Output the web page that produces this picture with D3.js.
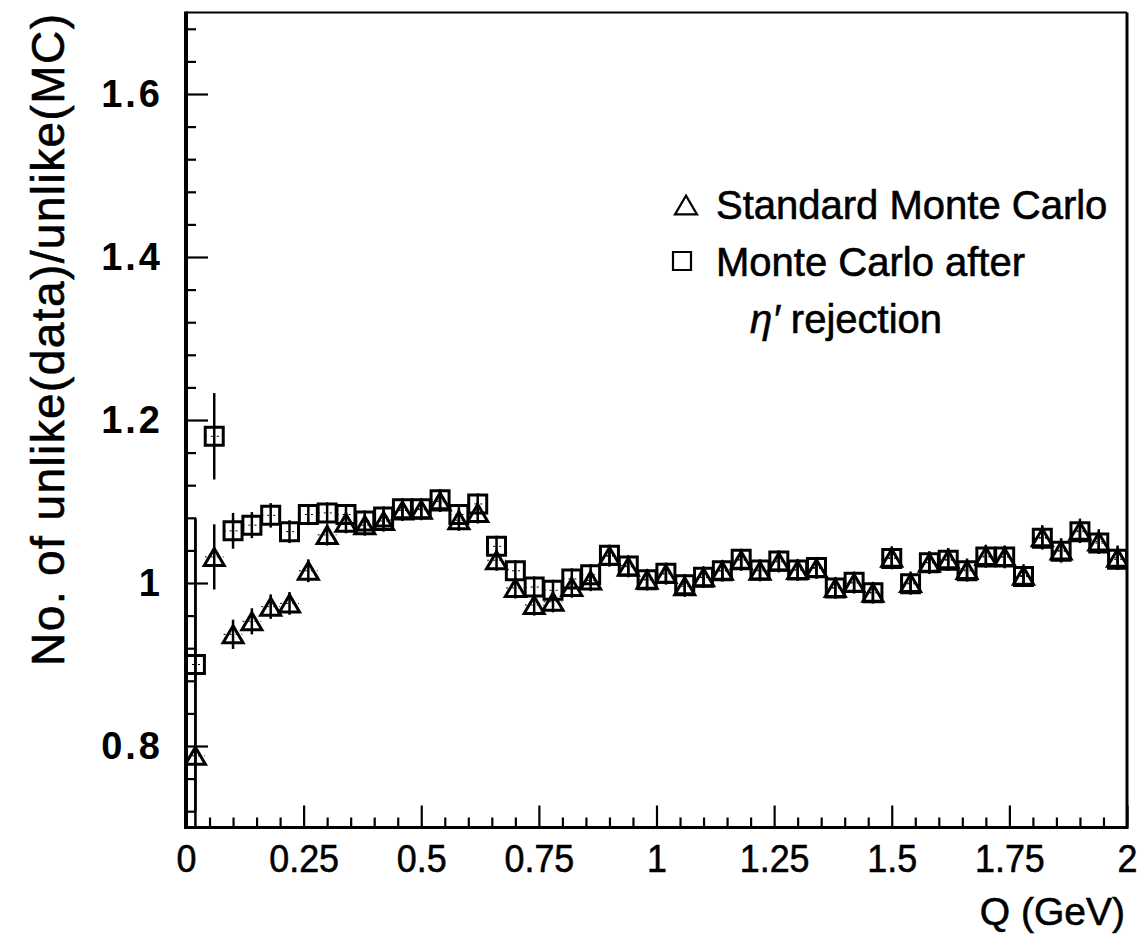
<!DOCTYPE html>
<html>
<head>
<meta charset="utf-8">
<script src="https://cdn.jsdelivr.net/npm/d3@7"></script>
<style>
  html, body { margin: 0; padding: 0; background: #fff; }
  svg { display: block; }
  text { font-family: "Liberation Sans", Arial, sans-serif; fill: #000; }
</style>
</head>
<body>
<svg id="chart" width="1145" height="935"></svg>
<script>
// Bin centres in Q (GeV)
const qBins = [
  0.02, 0.06, 0.10, 0.14, 0.18, 0.22, 0.26, 0.30, 0.34, 0.38,
  0.42, 0.46, 0.50, 0.54, 0.58, 0.62, 0.66, 0.70, 0.74, 0.78,
  0.82, 0.86, 0.90, 0.94, 0.98, 1.02, 1.06, 1.10, 1.14, 1.18,
  1.22, 1.26, 1.30, 1.34, 1.38, 1.42, 1.46, 1.50, 1.54, 1.58,
  1.62, 1.66, 1.70, 1.74, 1.78, 1.82, 1.86, 1.90, 1.94, 1.98
];
const binHalfWidth = 0.02;

// Ratio data/MC, standard Monte Carlo
const standardMC = [
  0.788, 1.032, 0.937, 0.953, 0.971, 0.975, 1.015, 1.059, 1.074, 1.071,
  1.076, 1.089, 1.090, 1.100, 1.077, 1.086, 1.028, 0.994, 0.973, 0.977,
  0.995, 1.003, 1.033, 1.020, 1.004, 1.011, 0.996, 1.007, 1.015, 1.028,
  1.015, 1.026, 1.016, 1.018, 0.994, 1.000, 0.988, 1.031, 1.000, 1.025,
  1.029, 1.016, 1.033, 1.032, 1.009, 1.056, 1.040, 1.064, 1.051, 1.031
];
const standardErr = [
  0.290, 0.040, 0.018, 0.016, 0.015, 0.014, 0.014, 0.013, 0.013, 0.013,
  0.013, 0.013, 0.013, 0.013, 0.013, 0.013, 0.013, 0.013, 0.013, 0.013,
  0.013, 0.013, 0.013, 0.013, 0.013, 0.013, 0.013, 0.013, 0.013, 0.013,
  0.013, 0.013, 0.013, 0.013, 0.013, 0.013, 0.013, 0.014, 0.014, 0.014,
  0.014, 0.014, 0.014, 0.014, 0.014, 0.015, 0.015, 0.015, 0.015, 0.015
];

// Ratio data/MC, Monte Carlo after eta' rejection
const etaRejMC = [
  0.900, 1.180, 1.064, 1.071, 1.083, 1.063, 1.084, 1.086, 1.084, 1.076,
  1.081, 1.091, 1.091, 1.102, 1.084, 1.097, 1.045, 1.015, 0.995, 0.991,
  1.005, 1.010, 1.034, 1.021, 1.004, 1.012, 0.998, 1.007, 1.015, 1.029,
  1.016, 1.027, 1.016, 1.019, 0.994, 1.001, 0.988, 1.030, 0.999, 1.025,
  1.028, 1.015, 1.032, 1.032, 1.008, 1.055, 1.039, 1.063, 1.049, 1.029
];
const etaRejErr = [
  0.180, 0.053, 0.022, 0.016, 0.015, 0.014, 0.013, 0.013, 0.013, 0.013,
  0.013, 0.013, 0.013, 0.013, 0.013, 0.013, 0.013, 0.013, 0.013, 0.013,
  0.013, 0.013, 0.013, 0.013, 0.013, 0.013, 0.013, 0.013, 0.013, 0.013,
  0.013, 0.013, 0.013, 0.013, 0.013, 0.013, 0.013, 0.013, 0.013, 0.013,
  0.013, 0.013, 0.013, 0.013, 0.013, 0.013, 0.013, 0.013, 0.013, 0.013
];

// Axis ticks and labels
const xMajorTicks = [0, 0.25, 0.5, 0.75, 1, 1.25, 1.5, 1.75, 2];
const xTickLabels = ["0", "0.25", "0.5", "0.75", "1", "1.25", "1.5", "1.75", "2"];
const yMajorTicks = [0.8, 1.0, 1.2, 1.4, 1.6];
const yTickLabels = ["0.8", "1", "1.2", "1.4", "1.6"];

const svg = d3.select("#chart");
const plotLeft = 186, plotRight = 1127, plotTop = 12.5, plotBottom = 827.5;

const x = d3.scaleLinear().domain([0, 2]).range([plotLeft, plotRight]);
const y = d3.scaleLinear().domain([0.7, 1.7]).range([plotBottom, plotTop]);

// clip region for the data
svg.append("clipPath").attr("id", "plotArea")
  .append("rect").attr("x", plotLeft).attr("y", plotTop)
  .attr("width", plotRight - plotLeft).attr("height", plotBottom - plotTop);

// ---- axes ----
const xMinor = d3.range(0, 41).filter(i => i % 5 !== 0).map(i => i * 0.05);
const yMinor = d3.range(18, 43).filter(i => i % 5 !== 0).map(i => i * 0.04);

const gx = svg.append("g").attr("transform", `translate(0,${plotBottom})`);
gx.call(d3.axisBottom(x).tickValues(xMajorTicks).tickSize(-22).tickPadding(17)
  .tickFormat((d, i) => xTickLabels[i]));
gx.append("g").call(d3.axisBottom(x).tickValues(xMinor).tickSize(-10).tickFormat(""));
gx.selectAll(".domain").remove();
gx.selectAll("line").attr("stroke", "#000").attr("stroke-width", 2.2);
gx.selectAll("text").style("font-size", "39px").attr("fill", "#000")
  .attr("stroke", "#000").attr("stroke-width", 0.6)
  .attr("transform", "scale(0.92,1)");

const gy = svg.append("g").attr("transform", `translate(${plotLeft},0)`);
gy.call(d3.axisLeft(y).tickValues(yMajorTicks).tickSize(-22).tickPadding(23)
  .tickFormat((d, i) => yTickLabels[i]));
gy.append("g").call(d3.axisLeft(y).tickValues(yMinor).tickSize(-10).tickFormat(""));
gy.selectAll(".domain").remove();
gy.selectAll("line").attr("stroke", "#000").attr("stroke-width", 2.2);
gy.selectAll("text").style("font-size", "38px").style("font-weight", "bold")
  .style("letter-spacing", "3px").attr("fill", "#000");

// ---- frame ----
const frame = svg.append("g").attr("stroke", "#000").attr("fill", "none");
frame.append("line").attr("x1", plotLeft).attr("x2", plotLeft).attr("y1", plotTop - 1).attr("y2", plotBottom + 1.5).attr("stroke-width", 4);
frame.append("line").attr("x1", plotLeft).attr("x2", plotRight).attr("y1", plotBottom).attr("y2", plotBottom).attr("stroke-width", 3);
frame.append("line").attr("x1", plotRight).attr("x2", plotRight).attr("y1", plotTop).attr("y2", plotBottom + 1.5).attr("stroke-width", 3);
frame.append("line").attr("x1", plotLeft).attr("x2", plotRight).attr("y1", plotTop).attr("y2", plotTop).attr("stroke-width", 2);

// ---- markers ----
const triangleShape = {
  draw(ctx, size) {
    const w = Math.sqrt(size), h = w * 0.85;
    ctx.moveTo(0, -h / 2);
    ctx.lineTo(w / 2, h / 2);
    ctx.lineTo(-w / 2, h / 2);
    ctx.closePath();
  }
};
const triPath = d3.symbol().type(triangleShape).size(20 * 20);
const sqPath = d3.symbol().type(d3.symbolSquare).size(18 * 18);

function drawSeries(values, errs, pathGen) {
  const pts = qBins.map((q, i) => ({ q, v: values[i], e: errs[i] }));
  const g = svg.append("g").attr("clip-path", "url(#plotArea)");
  g.selectAll("line.ev").data(pts).join("line").attr("class", "ev")
    .attr("x1", d => x(d.q)).attr("x2", d => x(d.q))
    .attr("y1", d => y(d.v - d.e)).attr("y2", d => y(d.v + d.e))
    .attr("stroke", "#000").attr("stroke-width", 2.5);
  g.selectAll("line.eh").data(pts).join("line").attr("class", "eh")
    .attr("x1", d => x(d.q - binHalfWidth)).attr("x2", d => x(d.q + binHalfWidth))
    .attr("y1", d => y(d.v)).attr("y2", d => y(d.v))
    .attr("stroke", "#000").attr("stroke-width", 1).attr("stroke-dasharray", "2,4");
  g.selectAll("path").data(pts).join("path")
    .attr("transform", d => `translate(${x(d.q)},${y(d.v)})`)
    .attr("d", pathGen)
    .attr("fill", "none").attr("stroke", "#000").attr("stroke-width", 3);
}
drawSeries(etaRejMC, etaRejErr, sqPath);
drawSeries(standardMC, standardErr, triPath);

// ---- axis titles ----
svg.append("text")
  .attr("transform", "translate(64,340) rotate(-90)")
  .attr("text-anchor", "middle")
  .attr("textLength", 652).attr("lengthAdjust", "spacing")
  .attr("stroke", "#000").attr("stroke-width", 0.6)
  .style("font-size", "46px")
  .text("No. of unlike(data)/unlike(MC)");

svg.append("text")
  .attr("x", 1125).attr("y", 925)
  .attr("text-anchor", "end")
  .attr("stroke", "#000").attr("stroke-width", 0.6)
  .style("font-size", "39px")
  .text("Q (GeV)");

// ---- legend ----
const legend = svg.append("g");
legend.append("path")
  .attr("transform", "translate(686,205)")
  .attr("d", d3.symbol().type(triangleShape).size(22 * 22)())
  .attr("fill", "none").attr("stroke", "#000").attr("stroke-width", 2.2);
legend.append("text").attr("x", 716).attr("y", 219).style("font-size", "40px")
  .attr("stroke", "#000").attr("stroke-width", 0.6)
  .text("Standard Monte Carlo");

legend.append("path")
  .attr("transform", "translate(682,261)")
  .attr("d", d3.symbol().type(d3.symbolSquare).size(18 * 18)())
  .attr("fill", "none").attr("stroke", "#000").attr("stroke-width", 2.2);
legend.append("text").attr("x", 716).attr("y", 276).style("font-size", "40px")
  .attr("stroke", "#000").attr("stroke-width", 0.6)
  .text("Monte Carlo after");

const eta = legend.append("text").attr("x", 750).attr("y", 333).style("font-size", "40px")
  .attr("stroke", "#000").attr("stroke-width", 0.6);
eta.append("tspan").style("font-style", "italic").text("η′");
eta.append("tspan").text(" rejection");
</script>
</body>
</html>
